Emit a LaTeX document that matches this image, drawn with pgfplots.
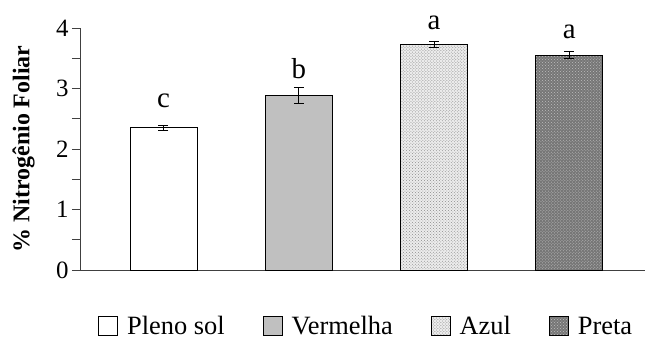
\documentclass[border=0pt]{standalone}
\usepackage{pgfplots}
\pgfplotsset{compat=1.18}
\usepackage{fontspec}
\setmainfont{Liberation Serif}
\usetikzlibrary{patterns}

% square legend boxes for the bar series
\pgfplotsset{/pgfplots/ybar legend/.style={
  /pgfplots/legend image code/.code={%
    \draw[##1,draw=black,line width=0.9bp] (0bp,-9.5bp) rectangle (19bp,9.5bp);}}}

\definecolor{verm}{RGB}{192,192,192}
\definecolor{azulfill}{RGB}{236,236,236}
\definecolor{pretafill}{RGB}{118,118,118}

\begin{document}
\begin{tikzpicture}
\useasboundingbox (-80bp,-72bp) rectangle (566bp,270bp);
\begin{axis}[
  scale only axis, width=565bp, height=242bp,
  ymin=0, ymax=4, xmin=-0.617, xmax=3.559,
  ybar, bar width=67bp, bar shift=0pt,
  clip=false,
  axis x line*=bottom, axis y line*=left,
  axis line style={draw=black!75, line width=0.9bp},
  xtick=\empty, ytick={0,1,2,3,4}, minor y tick num=1,
  tick align=outside, major tick length=8bp, minor tick length=8bp,
  tick style={draw=black!75, line width=0.9bp},
  /pgf/number format/assume math mode=true,
  yticklabel style={font=\fontsize{25}{28}\selectfont},
  ylabel={\% Nitrogênio Foliar},
  ylabel style={font=\bfseries\fontsize{24}{27}\selectfont,
    at={(axis description cs:-0.1,0.5)}, anchor=center},
  legend columns=4,
  legend style={at={(axis description cs:0.032,-0.232)}, anchor=west,
    draw=none, fill=none, inner sep=0pt,
    font=\fontsize{26.5}{29}\selectfont,
    nodes={inner xsep=2bp, inner ysep=1bp},
    /tikz/every odd column/.append style={column sep=7bp},
    /tikz/every even column/.append style={column sep=36bp}},
  error bars/y dir=both, error bars/y explicit,
  error bars/error bar style={black, line width=1bp},
  error bars/error mark options={rotate=90, mark size=5bp, line width=1bp, black},
]
\addplot[fill=white, draw=black, line width=0.9bp]
  coordinates {(0,2.35) +- (0,0.04)};
\addplot[fill=verm, draw=black, line width=0.9bp]
  coordinates {(1,2.89) +- (0,0.13)};
\addplot[fill=azulfill, draw=black, line width=0.9bp,
  postaction={pattern=crosshatch dots, pattern color=black!45}]
  coordinates {(2,3.73) +- (0,0.055)};
\addplot[fill=pretafill, draw=black, line width=0.9bp,
  postaction={pattern=crosshatch dots, pattern color=black!25}]
  coordinates {(3,3.55) +- (0,0.055)};
\legend{Pleno sol, Vermelha, Azul, Preta}

% significance letters
\node[anchor=base, font=\fontsize{29}{31}\selectfont] at (axis cs:0,2.68) {c};
\node[anchor=base, font=\fontsize{29}{31}\selectfont] at (axis cs:1,3.17) {b};
\node[anchor=base, font=\fontsize{29}{31}\selectfont] at (axis cs:2,3.97) {a};
\node[anchor=base, font=\fontsize{29}{31}\selectfont] at (axis cs:3,3.83) {a};
\end{axis}
\end{tikzpicture}
\end{document}
